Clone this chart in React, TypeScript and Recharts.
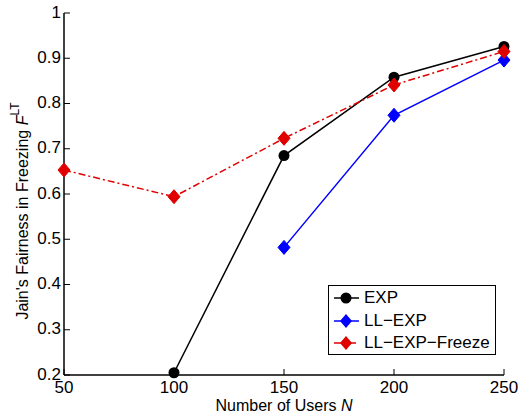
import React from "react";
import { LineChart, Line, XAxis, YAxis } from "recharts";

const users = [50, 100, 150, 200, 250];
const expVals = [null, 0.205, 0.685, 0.858, 0.926];
const llExpVals = [null, null, 0.482, 0.774, 0.896];
const freezeVals = [0.653, 0.594, 0.723, 0.841, 0.915];
const yTicks = [0.2, 0.3, 0.4, 0.5, 0.6, 0.7, 0.8, 0.9, 1];

const data = users.map((n, i) => ({
  n,
  exp: expVals[i],
  llexp: llExpVals[i],
  freeze: freezeVals[i],
}));

const FONT = "'Liberation Sans', Arial, Helvetica, sans-serif";
const RED = "#e00000";
const TICK = 6;

const fmtY = (v: number) => (v === 1 ? "1" : v.toFixed(1));

const BottomTick = (p: any) => (
  <g>
    <line x1={p.x} y1={p.y} x2={p.x} y2={p.y - TICK} stroke="#000" />
    <text x={p.x} y={p.y + 12} textAnchor="middle" dominantBaseline="central" fontSize={17} fontFamily={FONT} fill="#000">
      {p.payload.value}
    </text>
  </g>
);
const TopTick = (p: any) => (
  <line x1={p.x} y1={p.y} x2={p.x} y2={p.y + TICK} stroke="#000" />
);
const LeftTick = (p: any) => (
  <g>
    <line x1={p.x} y1={p.y} x2={p.x + TICK} y2={p.y} stroke="#000" />
    <text x={p.x - 3} y={p.y - 1} textAnchor="end" dominantBaseline="central" fontSize={17} fontFamily={FONT} fill="#000">
      {fmtY(p.payload.value)}
    </text>
  </g>
);
const RightTick = (p: any) => (
  <line x1={p.x} y1={p.y} x2={p.x - TICK} y2={p.y} stroke="#000" />
);

const Diamond = (color: string) => (p: any) => {
  if (p.value == null || p.cy == null) return <g key={`e-${p.index}`} />;
  const { cx, cy } = p;
  return (
    <path
      key={`d-${p.index}`}
      d={`M${cx},${cy - 7} L${cx + 6},${cy} L${cx},${cy + 7} L${cx - 6},${cy} Z`}
      fill={color}
      stroke={color}
    />
  );
};

const Circle = (p: any) => {
  if (p.value == null || p.cy == null) return <g key={`e-${p.index}`} />;
  return <circle key={`c-${p.index}`} cx={p.cx} cy={p.cy} r={5.5} fill="#000" />;
};

const legendItems = [
  { name: "EXP", color: "#000", shape: "circle", dash: undefined },
  { name: "LL\u2212EXP", color: "#0000ff", shape: "diamond", dash: undefined },
  { name: "LL\u2212EXP\u2212Freeze", color: RED, shape: "diamond", dash: "7 3 2 3" },
];

const LegendBox = () => (
  <div
    style={{
      position: "absolute",
      left: 328,
      top: 285,
      boxSizing: "border-box",
      width: 168,
      height: 70,
      border: "1.5px solid #000",
      background: "#fff",
      padding: "1px 0",
      fontFamily: FONT,
      fontSize: 17,
      color: "#000",
    }}
  >
    {legendItems.map((it) => (
      <div key={it.name} style={{ display: "flex", alignItems: "center", height: 22.5 }}>
        <svg width={32} height={22} style={{ marginLeft: 2 }}>
          <line x1={3} y1={11} x2={28} y2={11} stroke={it.color} strokeWidth={1.5} strokeDasharray={it.dash} />
          {it.shape === "circle" ? (
            <circle cx={15} cy={11} r={5.5} fill={it.color} />
          ) : (
            <path d="M15,4 L21,11 L15,18 L9,11 Z" fill={it.color} />
          )}
        </svg>
        <span style={{ marginLeft: 1, whiteSpace: "nowrap" }}>{it.name}</span>
      </div>
    ))}
  </div>
);

const YLabel = () => (
  <text
    transform="translate(22, 211) rotate(-90)"
    textAnchor="middle"
    dominantBaseline="central"
    fontSize={16}
    fontFamily={FONT}
    fill="#000"
  >
    Jain's Fairness in Freezing{" "}
    <tspan fontStyle="italic">F</tspan>
    <tspan dy={-7} fontSize={12}>LT</tspan>
  </text>
);

const XLabel = () => (
  <text x={284} y={405} textAnchor="middle" dominantBaseline="central" fontSize={16} fontFamily={FONT} fill="#000">
    Number of Users <tspan fontStyle="italic">N</tspan>
  </text>
);

export default function App() {
  return (
    <div style={{ position: "absolute", left: 0, top: 0, width: 519, height: 416, background: "#fff" }}>
      <LineChart width={519} height={416} data={data} margin={{ top: 13, right: 15, left: 0, bottom: 0 }}>
        <XAxis
          dataKey="n"
          type="number"
          domain={[50, 250]}
          ticks={users}
          height={41}
          tickSize={0}
          tickMargin={0}
          tickLine={false}
          tick={BottomTick}
          axisLine={{ stroke: "#000", strokeWidth: 1.5 }}
          label={<XLabel />}
        />
        <XAxis
          xAxisId="top"
          orientation="top"
          dataKey="n"
          type="number"
          domain={[50, 250]}
          ticks={users}
          height={0}
          tickSize={0}
          tickMargin={0}
          tickLine={false}
          tick={TopTick}
          axisLine={{ stroke: "#000", strokeWidth: 1.5 }}
        />
        <YAxis
          domain={[0.2, 1]}
          ticks={yTicks}
          width={64}
          tickSize={0}
          tickMargin={0}
          tickLine={false}
          tick={LeftTick}
          axisLine={{ stroke: "#000", strokeWidth: 1.5 }}
          label={<YLabel />}
        />
        <YAxis
          yAxisId="right"
          orientation="right"
          domain={[0.2, 1]}
          ticks={yTicks}
          width={0}
          tickSize={0}
          tickMargin={0}
          tickLine={false}
          tick={RightTick}
          axisLine={{ stroke: "#000", strokeWidth: 1.5 }}
        />
        <Line dataKey="exp" name="EXP" stroke="#000" strokeWidth={1.5} dot={Circle} activeDot={false} connectNulls isAnimationActive={false} />
        <Line dataKey="llexp" name="LL-EXP" stroke="#0000ff" strokeWidth={1.5} dot={Diamond("#0000ff")} activeDot={false} connectNulls isAnimationActive={false} />
        <Line dataKey="freeze" name="LL-EXP-Freeze" stroke={RED} strokeWidth={1.5} strokeDasharray="7 3 2 3" dot={Diamond(RED)} activeDot={false} isAnimationActive={false} />
      </LineChart>
      <LegendBox />
    </div>
  );
}
